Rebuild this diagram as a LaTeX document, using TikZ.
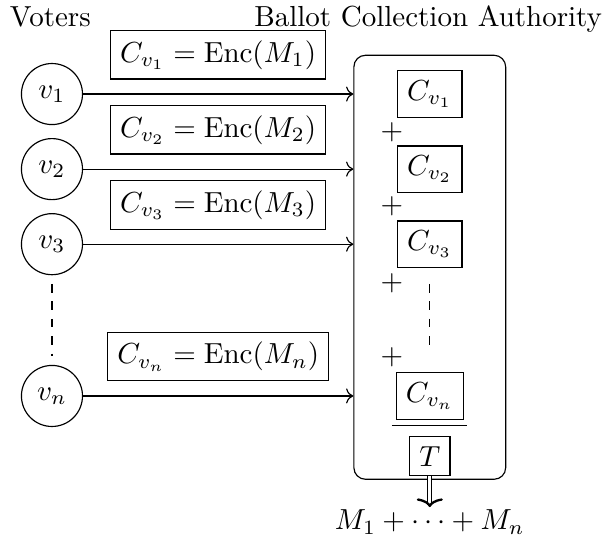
\documentclass[tikz,border=0pt]{standalone}
\usetikzlibrary{positioning,arrows.meta}

\begin{document}
\begin{tikzpicture}[voter/.style={draw,circle,minimum size=0.74cm,inner sep=0pt},
  cbox/.style={draw,inner sep=3.33pt}]
\useasboundingbox (0,0) rectangle (7.31,-6.58);
\node[anchor=base] (voters) at (0.61,-0.32) {Voters};
\node[anchor=base] (authname) at (5.19,-0.32) {Ballot Collection Authority};
\node[draw,rounded corners,minimum width=1.84cm,minimum height=5.14cm] (auth) at (5.21,-3.24) {};
\node[voter] (v1) at (0.63,-1.14) {$v_1$};
\node[voter] (v2) at (0.63,-2.05) {$v_2$};
\node[voter] (v3) at (0.63,-2.96) {$v_3$};
\node[voter] (vn) at (0.63,-4.80) {$v_n$};
\draw[dashed,shorten <=3pt,shorten >=3pt] (v3)--(vn);
\draw[->] (v1)--node[cbox,midway,above=5pt] (e1) {$C_{v_1} = \mathrm{Enc}(M_1)$} (v1-|auth.west);
\draw[->] (v2)--node[cbox,midway,above=5pt] (e2) {$C_{v_2} = \mathrm{Enc}(M_2)$} (v2-|auth.west);
\draw[->] (v3)--node[cbox,midway,above=5pt] (e3) {$C_{v_3} = \mathrm{Enc}(M_3)$} (v3-|auth.west);
\draw[->] (vn)--node[cbox,midway,above=5pt] (en) {$C_{v_n} = \mathrm{Enc}(M_n)$} (vn-|auth.west);
\node[cbox] (c1) at (5.21,-1.14) {$C_{v_1}$};
\node[cbox] (c2) at (5.21,-2.05) {$C_{v_2}$};
\node[cbox] (c3) at (5.21,-2.96) {$C_{v_3}$};
\node[cbox] (cn) at (5.21,-4.80) {$C_{v_n}$};
\node (p1) at (4.75,-1.60) {$+$};
\node (p2) at (4.75,-2.50) {$+$};
\node (p3) at (4.75,-3.43) {$+$};
\node (pn) at (4.75,-4.33) {$+$};
\draw[dashed,shorten <=5.5pt,shorten >=7pt] (c3)--(cn);
\draw (4.75,-5.16)--(5.66,-5.16);
\node[cbox] (tally) at (5.21,-5.53) {$T$};
\node (result) at (5.21,-6.33) {$M_1 + \cdots + M_n$};
\draw[double,double distance=1pt,-{To[line width=0.8pt,width=9pt,length=3pt]},shorten >=-2.5pt] (tally.south)--(result.north);
\end{tikzpicture}
\end{document}
